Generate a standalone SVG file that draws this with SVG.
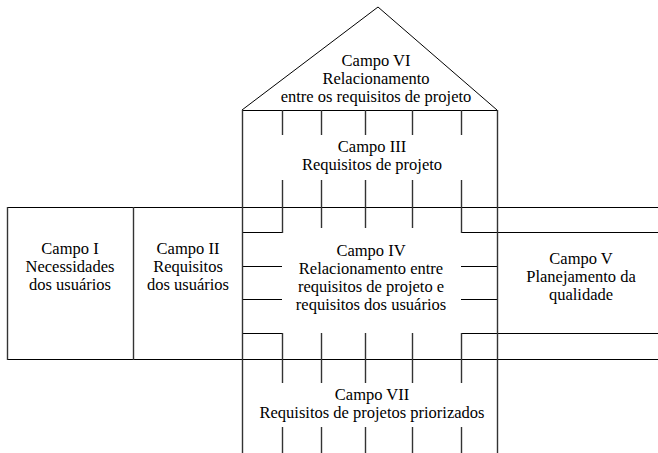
<svg xmlns="http://www.w3.org/2000/svg" width="658" height="453" viewBox="0 0 658 453">
<rect width="658" height="453" fill="#fff"/>
<g id="connectors" fill="none">
<g stroke="#000" stroke-width="1">
<polyline points="242,110 378,7 497,110"/>
<line x1="242" y1="110.5" x2="497" y2="110.5"/>
<line x1="7" y1="207.5" x2="658" y2="207.5"/>
<line x1="7" y1="359.5" x2="658" y2="359.5"/>
<line x1="242" y1="232.5" x2="282" y2="232.5"/>
<line x1="461" y1="232.5" x2="658" y2="232.5"/>
<line x1="242" y1="333.5" x2="282" y2="333.5"/>
<line x1="461" y1="333.5" x2="658" y2="333.5"/>
<line x1="242" y1="266.5" x2="282" y2="266.5"/>
<line x1="242" y1="299.5" x2="282" y2="299.5"/>
<line x1="461" y1="266.5" x2="497" y2="266.5"/>
<line x1="461" y1="299.5" x2="497" y2="299.5"/>
</g>
<g stroke="#333" stroke-width="1.4">
<line x1="7.5" y1="207" x2="7.5" y2="360"/>
<line x1="133.5" y1="207" x2="133.5" y2="360"/>
<line x1="242.5" y1="110" x2="242.5" y2="453"/>
<line x1="497.5" y1="110" x2="497.5" y2="453"/>
<line x1="282.5" y1="110" x2="282.5" y2="135"/>
<line x1="321.5" y1="110" x2="321.5" y2="135"/>
<line x1="365.5" y1="110" x2="365.5" y2="135"/>
<line x1="412.5" y1="110" x2="412.5" y2="135"/>
<line x1="461.5" y1="110" x2="461.5" y2="135"/>
<line x1="282.5" y1="180" x2="282.5" y2="233"/>
<line x1="321.5" y1="180" x2="321.5" y2="228"/>
<line x1="365.5" y1="180" x2="365.5" y2="228"/>
<line x1="412.5" y1="180" x2="412.5" y2="228"/>
<line x1="461.5" y1="180" x2="461.5" y2="233"/>
<line x1="282.5" y1="333" x2="282.5" y2="383"/>
<line x1="321.5" y1="333" x2="321.5" y2="383"/>
<line x1="365.5" y1="333" x2="365.5" y2="383"/>
<line x1="412.5" y1="333" x2="412.5" y2="383"/>
<line x1="461.5" y1="333" x2="461.5" y2="383"/>
<line x1="282.5" y1="427" x2="282.5" y2="453"/>
<line x1="321.5" y1="427" x2="321.5" y2="453"/>
<line x1="365.5" y1="427" x2="365.5" y2="453"/>
<line x1="412.5" y1="427" x2="412.5" y2="453"/>
<line x1="461.5" y1="427" x2="461.5" y2="453"/>
</g>
</g>
<g font-size="16.5" text-anchor="middle" fill="#000" font-family="Liberation Serif, Times New Roman, serif">
<g id="campo6"><text x="376" y="66">Campo VI</text><text x="376" y="84">Relacionamento</text><text x="376" y="102">entre os requisitos de projeto</text></g>
<g id="campo3"><text x="372" y="152">Campo III</text><text x="372" y="170">Requisitos de projeto</text></g>
<g id="campo4"><text x="371" y="256">Campo IV</text><text x="371" y="274">Relacionamento entre</text><text x="371" y="292">requisitos de projeto e</text><text x="371" y="310">requisitos dos usuários</text></g>
<g id="campo7"><text x="372" y="400">Campo VII</text><text x="372" y="418">Requisitos de projetos priorizados</text></g>
<g id="campo1"><text x="70" y="254">Campo I</text><text x="70" y="272">Necessidades</text><text x="70" y="290">dos usuários</text></g>
<g id="campo2"><text x="188" y="254">Campo II</text><text x="188" y="272">Requisitos</text><text x="188" y="290">dos usuários</text></g>
<g id="campo5"><text x="581" y="264">Campo V</text><text x="581" y="282">Planejamento da</text><text x="581" y="300">qualidade</text></g>
</g>
</svg>
